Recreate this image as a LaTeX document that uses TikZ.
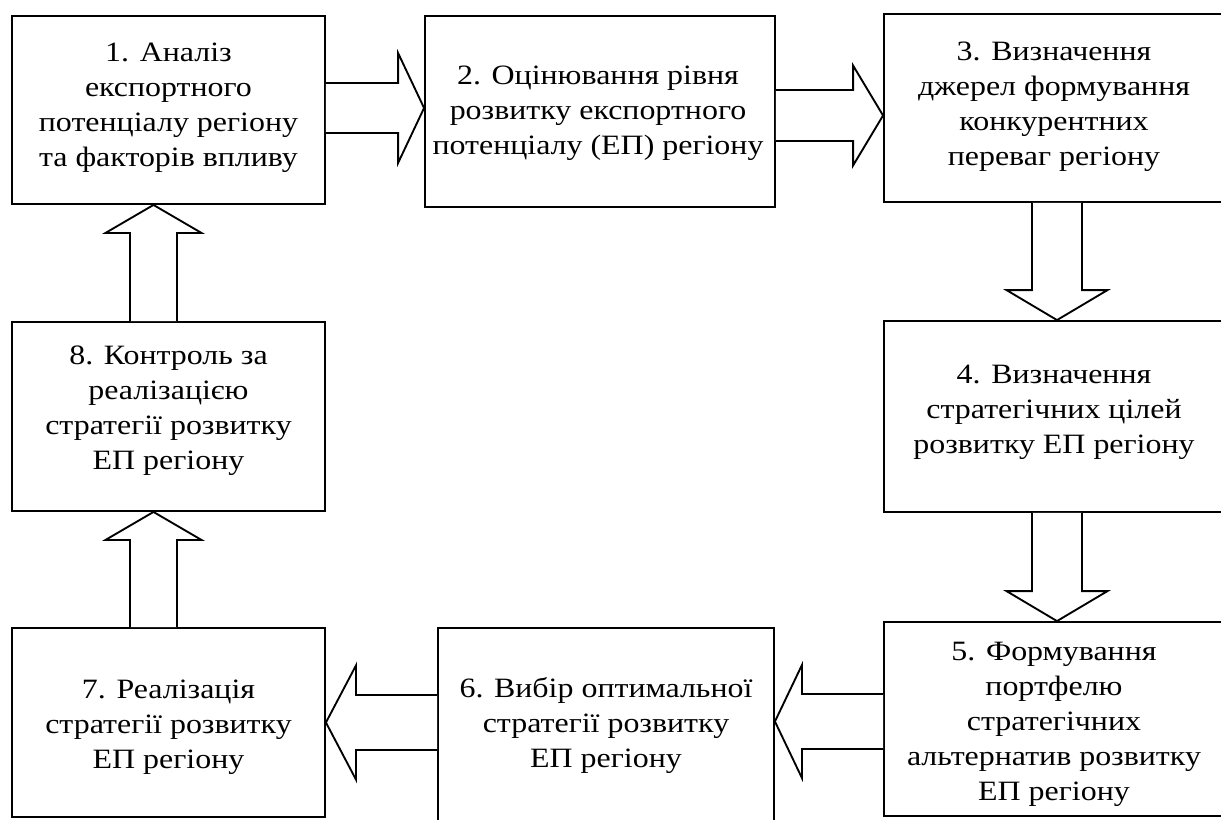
\documentclass[tikz,border=0pt]{standalone}
\usepackage{fontspec}
\setmainfont{Liberation Serif}[FakeStretch=1.14]
\usetikzlibrary{calc}
\tikzset{
  box/.style={draw=black, line width=1.4pt, rectangle, inner sep=0pt},
  txt/.style={align=center, inner sep=0pt, font=\fontsize{21}{26.25}\selectfont},
  arr/.style={draw=black, line width=1.4pt, line join=miter, fill=white}
}
% horizontal block arrow: from #1 to tip #2, centre y #3, shaft half #4, head half #5, signed head length #6
\newcommand\harrow[6]{%
  \draw[arr] ($(#1 |- 0,#3)+(0,-#4)$) -- ($(#2 |- 0,#3)+(#6,-#4)$) -- ($(#2 |- 0,#3)+(#6,-#5)$)
    -- (#2 |- 0,#3) -- ($(#2 |- 0,#3)+(#6,#5)$) -- ($(#2 |- 0,#3)+(#6,#4)$) -- ($(#1 |- 0,#3)+(0,#4)$);}
% vertical block arrow: from #1 to tip #2, centre x #3, shaft half #4, head half #5, signed head length #6
\newcommand\varrow[6]{%
  \draw[arr] ($(#1 -| #3,0)+(-#4,0)$) -- ($(#2 -| #3,0)+(-#4,#6)$) -- ($(#2 -| #3,0)+(-#5,#6)$)
    -- (#2 -| #3,0) -- ($(#2 -| #3,0)+(#5,#6)$) -- ($(#2 -| #3,0)+(#4,#6)$) -- ($(#1 -| #3,0)+(#4,0)$);}
\begin{document}
\begin{tikzpicture}[x=0.75pt, y=-0.75pt]
\useasboundingbox (0,0) rectangle (1221,819);
\clip (0,0) rectangle (1221,819);
% boxes
\node[box, minimum width=234.75pt, minimum height=141pt] (b1) at (168.5,110) {};
\node[box, minimum width=262.5pt, minimum height=143.25pt] (b2) at (600,111.5) {};
\node[box, minimum width=255pt, minimum height=141pt] (b3) at (1054,108) {};
\node[box, minimum width=255pt, minimum height=143.25pt] (b4) at (1054,416.5) {};
\node[box, minimum width=255pt, minimum height=145.5pt] (b5) at (1054,719) {};
\node[box, minimum width=252pt, minimum height=145.5pt] (b6) at (606,725) {};
\node[box, minimum width=234.75pt, minimum height=141.75pt] (b7) at (168.5,722.5) {};
\node[box, minimum width=234.75pt, minimum height=141.75pt] (b8) at (168.5,416.5) {};
% texts
\node[txt] (t1) at (168.5,108) {1. Аналіз\\експортного\\потенціалу регіону\\та факторів впливу};
\node[txt] (t2) at (598,113.5) {2. Оцінювання рівня\\розвитку експортного\\потенціалу (ЕП) регіону};
\node[txt] (t3) at (1054,107) {3. Визначення\\джерел формування\\конкурентних\\переваг регіону};
\node[txt] (t4) at (1054,412.5) {4. Визначення\\стратегічних цілей\\розвитку ЕП регіону};
\node[txt] (t5) at (1054,724.5) {5. Формування\\портфелю\\стратегічних\\альтернатив розвитку\\ЕП регіону};
\node[txt] (t6) at (606,725) {6. Вибір оптимальної\\стратегії розвитку\\ЕП регіону};
\node[txt] (t7) at (168.5,727) {7. Реалізація\\стратегії розвитку\\ЕП регіону};
\node[txt] (t8) at (168.5,410.5) {8. Контроль за\\реалізацією\\стратегії розвитку\\ЕП регіону};
% arrows
\harrow{b1.east}{b2.west}{108}{25}{55}{-26}
\harrow{b2.east}{b3.west}{115.5}{25.5}{50}{-30}
\varrow{b3.south}{b4.north}{1057}{25}{50.5}{-30}
\varrow{b4.south}{b5.north}{1057}{25}{50.5}{-30}
\harrow{b5.west}{b6.east}{721.5}{27.5}{56.5}{27}
\harrow{b6.west}{b7.east}{722.5}{27.5}{57}{30}
\varrow{b7.north}{b8.south}{153.5}{23.5}{48}{28}
\varrow{b8.north}{b1.south}{153.5}{23.5}{48}{28}
\end{tikzpicture}
\end{document}
